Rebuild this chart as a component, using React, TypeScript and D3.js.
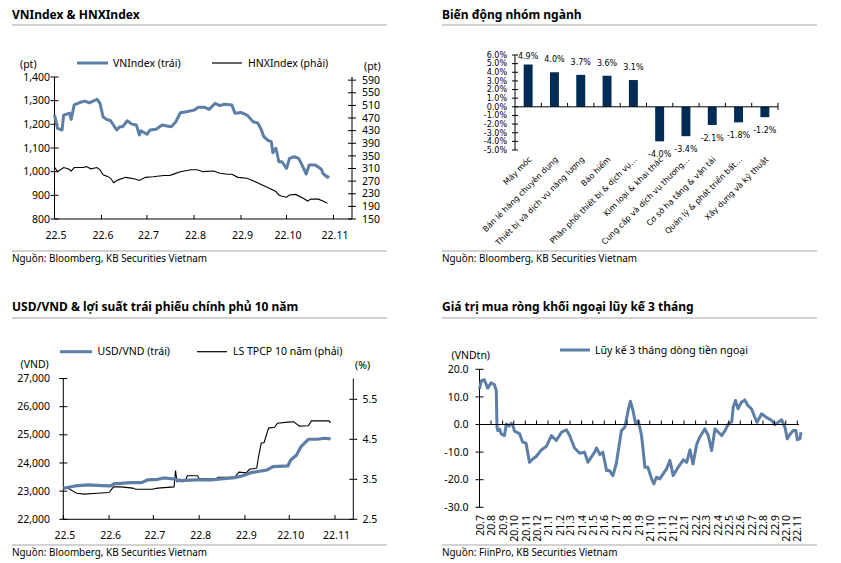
import React from "react";
import * as d3 from "d3";

const BLUE = "#5d7ea6";
const NAVY = "#002c55";
const GRID = "#a6a6a6";
const FONT = "'Noto Sans', sans-serif";
const BARFONT = "'DejaVu Sans', sans-serif";

// ---------- Panel 1: VNIndex & HNXIndex ----------
const vnIndex: [string, number][] = [
  ["2022-05-01", 1239], ["2022-05-03", 1183], ["2022-05-06", 1176], ["2022-05-07", 1239], ["2022-05-11", 1247],
  ["2022-05-12", 1221], ["2022-05-14", 1282], ["2022-05-18", 1293], ["2022-05-21", 1298], ["2022-05-24", 1291],
  ["2022-05-29", 1306], ["2022-05-31", 1289], ["2022-06-02", 1232], ["2022-06-04", 1222], ["2022-06-07", 1215],
  ["2022-06-11", 1176], ["2022-06-13", 1190], ["2022-06-15", 1190], ["2022-06-18", 1215], ["2022-06-21", 1201],
  ["2022-06-24", 1197], ["2022-06-26", 1155], ["2022-06-27", 1173], ["2022-07-01", 1158], ["2022-07-03", 1176],
  ["2022-07-07", 1179], ["2022-07-11", 1197], ["2022-07-14", 1193], ["2022-07-17", 1190], ["2022-07-20", 1211],
  ["2022-07-23", 1249], ["2022-07-27", 1253], ["2022-08-01", 1260], ["2022-08-04", 1272], ["2022-08-08", 1272],
  ["2022-08-11", 1263], ["2022-08-15", 1289], ["2022-08-18", 1279], ["2022-08-21", 1285], ["2022-08-26", 1282],
  ["2022-08-28", 1247], ["2022-09-01", 1250], ["2022-09-05", 1239], ["2022-09-09", 1211], ["2022-09-12", 1206],
  ["2022-09-14", 1183], ["2022-09-16", 1148], ["2022-09-19", 1131], ["2022-09-21", 1127], ["2022-09-22", 1080],
  ["2022-09-24", 1099], ["2022-09-26", 1042], ["2022-09-28", 1042], ["2022-10-01", 1014], ["2022-10-03", 1056],
  ["2022-10-06", 1063], ["2022-10-09", 1056], ["2022-10-12", 1018], ["2022-10-14", 990], ["2022-10-16", 1028],
  ["2022-10-20", 1028], ["2022-10-24", 1010], ["2022-10-25", 993], ["2022-10-28", 976], ["2022-10-29", 982],
];
const hnxIndex: [string, number][] = [
  ["2022-05-01", 314], ["2022-05-03", 300], ["2022-05-07", 313], ["2022-05-10", 309], ["2022-05-12", 302],
  ["2022-05-14", 313], ["2022-05-20", 313], ["2022-05-22", 316], ["2022-05-25", 309], ["2022-05-29", 313],
  ["2022-05-31", 306], ["2022-06-02", 290], ["2022-06-05", 285], ["2022-06-07", 279], ["2022-06-09", 265],
  ["2022-06-12", 274], ["2022-06-17", 282], ["2022-06-23", 277], ["2022-06-26", 272], ["2022-06-30", 282],
  ["2022-07-05", 284], ["2022-07-12", 288], ["2022-07-16", 288], ["2022-07-19", 293], ["2022-07-23", 300],
  ["2022-07-30", 306], ["2022-08-03", 306], ["2022-08-07", 300], ["2022-08-14", 302], ["2022-08-18", 295],
  ["2022-08-23", 292], ["2022-08-26", 292], ["2022-08-30", 282], ["2022-09-05", 279], ["2022-09-09", 271],
  ["2022-09-15", 258], ["2022-09-20", 247], ["2022-09-24", 237], ["2022-09-26", 226], ["2022-09-28", 222],
  ["2022-10-01", 219], ["2022-10-03", 226], ["2022-10-07", 228], ["2022-10-12", 216], ["2022-10-15", 207],
  ["2022-10-17", 213], ["2022-10-22", 213], ["2022-10-25", 207], ["2022-10-28", 200],
];
const monthTicks22 = ["2022-05-01", "2022-06-01", "2022-07-01", "2022-08-01", "2022-09-01", "2022-10-01", "2022-11-01"];
const monthLabels22 = ["22.5", "22.6", "22.7", "22.8", "22.9", "22.10", "22.11"];
const vnTicks = [800, 900, 1000, 1100, 1200, 1300, 1400];
const hnxTicks = [150, 190, 230, 270, 310, 350, 390, 430, 470, 510, 550, 590];

// ---------- Panel 2: sector performance ----------
const sectors = [
  "Máy móc",
  "Bán lẻ hàng chuyên dụng",
  "Thiết bị và dịch vụ năng lượng",
  "Bảo hiểm",
  "Phân phối thiết bị & dịch vụ…",
  "Kim loại & khai thác",
  "Cung cấp và dịch vụ thương…",
  "Cơ sở hạ tầng & vận tải",
  "Quản lý & phát triển bất…",
  "Xây dựng và kỹ thuật",
];
const sectorChange = [4.9, 4.0, 3.7, 3.6, 3.1, -4.0, -3.4, -2.1, -1.8, -1.2];
const pctTicks = [-5, -4, -3, -2, -1, 0, 1, 2, 3, 4, 5, 6];

// ---------- Panel 3: USD/VND & 10Y bond yield ----------
const usdVnd: [string, number][] = [
  ["2022-05-01", 23102], ["2022-05-09", 23184], ["2022-05-18", 23220], ["2022-05-27", 23196], ["2022-06-02", 23184],
  ["2022-06-04", 23255], ["2022-06-16", 23302], ["2022-06-23", 23302], ["2022-06-27", 23397], ["2022-07-04", 23420],
  ["2022-07-08", 23468], ["2022-07-15", 23432], ["2022-07-19", 23373], ["2022-07-30", 23397], ["2022-08-09", 23397],
  ["2022-08-16", 23432], ["2022-08-25", 23480], ["2022-08-30", 23539], ["2022-09-05", 23657], ["2022-09-16", 23752],
  ["2022-09-20", 23870], ["2022-09-30", 23894], ["2022-10-02", 24108], ["2022-10-06", 24285], ["2022-10-09", 24581],
  ["2022-10-14", 24842], ["2022-10-20", 24842], ["2022-10-25", 24877], ["2022-10-29", 24854],
];
const bondYield: [string, number][] = [
  ["2022-05-01", 3.29], ["2022-05-04", 3.28], ["2022-05-10", 3.15], ["2022-05-15", 3.13], ["2022-05-24", 3.15],
  ["2022-06-01", 3.17], ["2022-06-04", 3.31], ["2022-06-09", 3.31], ["2022-06-17", 3.28], ["2022-06-19", 3.25],
  ["2022-06-30", 3.25], ["2022-07-04", 3.28], ["2022-07-15", 3.31], ["2022-07-16", 3.72], ["2022-07-17", 3.44],
  ["2022-07-19", 3.5], ["2022-07-21", 3.44], ["2022-07-23", 3.5], ["2022-07-24", 3.59], ["2022-07-31", 3.59],
  ["2022-08-01", 3.51], ["2022-08-12", 3.51], ["2022-08-14", 3.55], ["2022-08-25", 3.55], ["2022-08-28", 3.68],
  ["2022-09-02", 3.66], ["2022-09-04", 3.75], ["2022-09-09", 3.78], ["2022-09-10", 4.02], ["2022-09-12", 4.4],
  ["2022-09-14", 4.42], ["2022-09-17", 4.78], ["2022-09-21", 4.8], ["2022-09-23", 4.9], ["2022-09-30", 4.93],
  ["2022-10-04", 4.94], ["2022-10-08", 4.83], ["2022-10-14", 4.84], ["2022-10-16", 4.96], ["2022-10-25", 4.96],
  ["2022-10-28", 4.96], ["2022-10-29", 4.91],
];
const vndTicks = [22000, 23000, 24000, 25000, 26000, 27000];
const yieldTicks = [2.5, 3.5, 4.5, 5.5];

// ---------- Panel 4: foreign net buying, 3-month cumulative ----------
const foreignFlow: [string, number][] = [
  ["2020-07-01", 12.9], ["2020-07-06", 15.9], ["2020-07-14", 16.2], ["2020-07-23", 13.2], ["2020-08-01", 15.1],
  ["2020-08-10", 14.4], ["2020-08-15", 12.3], ["2020-08-17", -1.0], ["2020-08-19", -2.2], ["2020-08-24", -1.7],
  ["2020-08-28", -3.4], ["2020-09-06", -4.0], ["2020-09-11", 0.2], ["2020-09-18", -0.6], ["2020-09-24", 0.4],
  ["2020-09-29", -0.6], ["2020-10-03", -2.4], ["2020-10-17", -3.4], ["2020-10-25", -6.4], ["2020-11-03", -6.8],
  ["2020-11-12", -13.7], ["2020-11-21", -12.5], ["2020-11-30", -11.6], ["2020-12-14", -9.2], ["2020-12-27", -8.0],
  ["2021-01-10", -4.0], ["2021-01-23", -5.8], ["2021-02-06", -2.8], ["2021-02-19", -1.9], ["2021-02-28", -4.0],
  ["2021-03-13", -8.5], ["2021-03-27", -10.4], ["2021-04-09", -10.0], ["2021-04-18", -13.7], ["2021-04-27", -11.8],
  ["2021-05-06", -10.0], ["2021-05-11", -8.5], ["2021-05-20", -10.9], ["2021-05-28", -10.0], ["2021-06-07", -16.7],
  ["2021-06-15", -16.7], ["2021-06-24", -18.5], ["2021-07-03", -14.3], ["2021-07-17", -2.2], ["2021-07-26", -1.0],
  ["2021-08-04", 5.1], ["2021-08-10", 8.4], ["2021-08-17", 5.1], ["2021-08-24", 0.2], ["2021-08-31", 1.4],
  ["2021-09-09", -4.0], ["2021-09-18", -15.5], ["2021-09-26", -15.5], ["2021-10-06", -19.7], ["2021-10-12", -21.5],
  ["2021-10-19", -19.1], ["2021-10-28", -19.7], ["2021-11-06", -17.9], ["2021-11-15", -16.1], ["2021-11-24", -13.0],
  ["2021-12-03", -18.5], ["2021-12-16", -15.5], ["2021-12-30", -12.8], ["2022-01-08", -13.7], ["2022-01-17", -9.2],
  ["2022-01-25", -14.3], ["2022-02-04", -7.2], ["2022-02-12", -4.6], ["2022-02-26", -1.6], ["2022-03-07", -4.0],
  ["2022-03-16", -9.4], ["2022-03-25", -1.6], ["2022-04-03", -2.8], ["2022-04-12", -4.0], ["2022-04-21", -2.2],
  ["2022-04-30", 0.2], ["2022-05-09", 1.0], ["2022-05-13", 6.3], ["2022-05-19", 8.7], ["2022-05-26", 5.7],
  ["2022-06-04", 8.1], ["2022-06-13", 8.9], ["2022-06-22", 6.8], ["2022-07-01", 5.7], ["2022-07-10", 2.6],
  ["2022-07-16", 0.8], ["2022-07-28", 3.9], ["2022-08-11", 2.5], ["2022-08-24", 1.5], ["2022-09-02", 0.0],
  ["2022-09-11", 0.8], ["2022-09-20", 1.7], ["2022-09-29", -1.0], ["2022-10-05", -5.2], ["2022-10-12", -3.6],
  ["2022-10-21", -2.2], ["2022-10-28", -2.2], ["2022-11-01", -5.5], ["2022-11-08", -5.2], ["2022-11-11", -2.8],
];
const flowTicks = [-30, -20, -10, 0, 10, 20];
const flowMonthStart = "2020-07-01";
const flowMonthCount = 29;

const parse = d3.timeParse("%Y-%m-%d");
const toPts = (s: [string, number][]) => s.map(([d, v]) => ({ d: parse(d) as Date, v }));

function Header({ x, title, titleY, lineY, srcLineY, srcY, source }: any) {
  return (
    <g>
      <text x={x} y={titleY} fontSize={12} fontWeight="bold" fill="#000">{title}</text>
      <line x1={x} x2={x + 375} y1={lineY} y2={lineY} stroke={GRID} strokeWidth={1.2} />
      <line x1={x} x2={x + 375} y1={srcLineY} y2={srcLineY} stroke={GRID} strokeWidth={1.2} />
      <text x={x} y={srcY} fontSize={9.9} fill="#000">{source}</text>
    </g>
  );
}

function Panel1() {
  const x = d3.scaleTime().domain([parse("2022-05-01") as Date, parse("2022-11-01") as Date]).range([54.5, 333.5]);
  const yL = d3.scaleLinear().domain([800, 1400]).range([219, 77]);
  const yR = d3.scaleLinear().domain([150, 600]).range([219, 77]);
  const lineL = d3.line<any>().x((p) => x(p.d)).y((p) => yL(p.v));
  const lineR = d3.line<any>().x((p) => x(p.d)).y((p) => yR(p.v));
  const fmt = d3.format(",");
  return (
    <g>
      <Header x={12} title="VNIndex & HNXIndex" titleY={18.5} lineY={25} srcLineY={251} srcY={262}
        source="Nguồn: Bloomberg, KB Securities Vietnam" />
      {/* legend */}
      <line x1={77} x2={108} y1={63} y2={63} stroke={BLUE} strokeWidth={3} />
      <text x={113} y={63} dy="0.35em" fontSize={10.5}>VNIndex (trái)</text>
      <line x1={212} x2={242} y1={63} y2={63} stroke="#000" strokeWidth={1.2} />
      <text x={248} y={63} dy="0.35em" fontSize={10.5}>HNXIndex (phải)</text>
      <text x={20} y={64} dy="0.35em" fontSize={10.5}>(pt)</text>
      <text x={364} y={66} dy="0.35em" fontSize={10.5}>(pt)</text>
      {/* axes */}
      <line x1={54.5} x2={54.5} y1={77} y2={219} stroke="#000" />
      <line x1={352} x2={352} y1={77} y2={219} stroke="#000" />
      <line x1={54.5} x2={352} y1={219} y2={219} stroke="#000" />
      {vnTicks.map((t) => (
        <g key={t}>
          <line x1={50.5} x2={58.5} y1={yL(t)} y2={yL(t)} stroke="#000" />
          <text x={50} y={yL(t)} dy="0.35em" textAnchor="end" fontSize={10.5}>{fmt(t)}</text>
        </g>
      ))}
      {hnxTicks.map((t) => (
        <g key={t}>
          <line x1={348} x2={356} y1={yR(t)} y2={yR(t)} stroke="#000" />
          <text x={362} y={yR(t)} dy="0.35em" fontSize={10.5}>{t}</text>
        </g>
      ))}
      {monthTicks22.map((m, i) => {
        const tx = x(parse(m) as Date);
        return (
          <g key={m}>
            <line x1={tx} x2={tx} y1={219} y2={215} stroke="#000" />
            <text x={tx + 1.5} y={235.5} dy="0.35em" textAnchor="middle" fontSize={10.5}>{monthLabels22[i]}</text>
          </g>
        );
      })}
      <path d={lineR(toPts(hnxIndex)) || ""} fill="none" stroke="#000" strokeWidth={1.1} />
      <path d={lineL(toPts(vnIndex)) || ""} fill="none" stroke={BLUE} strokeWidth={3} strokeLinejoin="round" />
    </g>
  );
}

function Panel2() {
  const x = d3.scaleBand<string>().domain(sectors).range([515, 778]).padding(0);
  const y = d3.scaleLinear().domain([-5, 6]).range([150, 55]);
  const bw = x.step() * 0.34;
  return (
    <g>
      <Header x={442} title="Biến động nhóm ngành" titleY={18.5} lineY={25} srcLineY={251} srcY={262}
        source="Nguồn: Bloomberg, KB Securities Vietnam" />
      <line x1={515} x2={515} y1={y(6)} y2={y(-5)} stroke="#000" />
      {pctTicks.map((t) => (
        <g key={t}>
          <line x1={512} x2={518} y1={y(t)} y2={y(t)} stroke="#000" />
          <text x={507} y={y(t)} dy="0.35em" textAnchor="end" fontSize={8} fontFamily={BARFONT}>{t.toFixed(1)}%</text>
        </g>
      ))}
      {sectors.map((s, i) => {
        const cx = (x(s) as number) + x.step() / 2;
        const v = sectorChange[i];
        const y0 = y(0);
        const yv = y(v);
        const ly = v >= 0 ? Math.max(yv - 13, 56) : yv + 13;
        return (
          <g key={s}>
            <rect x={cx - bw / 2} y={Math.min(y0, yv)} width={bw} height={Math.abs(yv - y0)} fill={NAVY} />
            <text x={cx} y={ly} dy="0.35em" textAnchor="middle" fontSize={8} fontFamily={BARFONT}>{v.toFixed(1)}%</text>
            <text transform={`translate(${cx + 4},${160}) rotate(-45)`} textAnchor="end" fontSize={8} fontFamily={BARFONT}>{s}</text>
          </g>
        );
      })}
      <line x1={515} x2={778} y1={y(0)} y2={y(0)} stroke="#000" />
      {sectors.map((s, i) => {
        const bx = (x(s) as number) + x.step();
        return <line key={"t" + i} x1={bx} x2={bx} y1={y(0) - 4} y2={y(0) + (i === sectors.length - 1 ? 3 : 0)} stroke="#000" />;
      })}
    </g>
  );
}

function Panel3() {
  const x = d3.scaleTime().domain([parse("2022-05-01") as Date, parse("2022-11-01") as Date]).range([63.3, 335]);
  const yL = d3.scaleLinear().domain([22000, 27000]).range([519.3, 378.5]);
  const yR = d3.scaleLinear().domain([2.5, 6.0]).range([519.3, 379.3]);
  const lineL = d3.line<any>().x((p) => x(p.d)).y((p) => yL(p.v));
  const lineR = d3.line<any>().x((p) => x(p.d)).y((p) => yR(p.v));
  const fmt = d3.format(",");
  return (
    <g>
      <Header x={12} title="USD/VND & lợi suất trái phiếu chính phủ 10 năm" titleY={310.5} lineY={318} srcLineY={545} srcY={555.5}
        source="Nguồn: Bloomberg, KB Securities Vietnam" />
      <line x1={60} x2={92} y1={351.7} y2={351.7} stroke={BLUE} strokeWidth={3} />
      <text x={97.5} y={351.7} dy="0.35em" fontSize={10.5}>USD/VND (trái)</text>
      <line x1={197} x2={227} y1={351.7} y2={351.7} stroke="#000" strokeWidth={1.2} />
      <text x={233} y={351.7} dy="0.35em" fontSize={10.5}>LS TPCP 10 năm (phải)</text>
      <text x={20.5} y={364} dy="0.35em" fontSize={10.5}>(VND)</text>
      <text x={355} y={365} dy="0.35em" fontSize={10.5}>(%)</text>
      <line x1={63.3} x2={63.3} y1={378.5} y2={519.3} stroke="#000" />
      <line x1={353.3} x2={353.3} y1={378.5} y2={519.3} stroke="#000" />
      <line x1={63.3} x2={353.3} y1={519.3} y2={519.3} stroke="#000" />
      {vndTicks.map((t) => (
        <g key={t}>
          <line x1={59.3} x2={67.3} y1={yL(t)} y2={yL(t)} stroke="#000" />
          <text x={50} y={yL(t)} dy="0.35em" textAnchor="end" fontSize={10.5}>{fmt(t)}</text>
        </g>
      ))}
      {yieldTicks.map((t) => (
        <g key={t}>
          <line x1={349.3} x2={357.3} y1={yR(t)} y2={yR(t)} stroke="#000" />
          <text x={362.5} y={yR(t)} dy="0.35em" fontSize={10.5}>{t.toFixed(1)}</text>
        </g>
      ))}
      {monthTicks22.map((m, i) => {
        const tx = x(parse(m) as Date);
        return (
          <g key={m}>
            <line x1={tx} x2={tx} y1={519.3} y2={515} stroke="#000" />
            <text x={tx + 1.5} y={535} dy="0.35em" textAnchor="middle" fontSize={10.5}>{monthLabels22[i]}</text>
          </g>
        );
      })}
      <path d={lineR(toPts(bondYield)) || ""} fill="none" stroke="#000" strokeWidth={1.1} />
      <path d={lineL(toPts(usdVnd)) || ""} fill="none" stroke={BLUE} strokeWidth={3.2} strokeLinejoin="round" />
    </g>
  );
}

function Panel4() {
  const start = parse(flowMonthStart) as Date;
  const months = d3.range(flowMonthCount).map((i) => d3.timeMonth.offset(start, i));
  const x = d3.scaleTime().domain([months[0], months[months.length - 1]]).range([479.5, 797.3]);
  const y = d3.scaleLinear().domain([-30, 20]).range([507.3, 369.3]);
  const line = d3.line<any>().x((p) => x(p.d)).y((p) => y(p.v));
  const lab = d3.timeFormat("%y");
  return (
    <g>
      <Header x={442} title="Giá trị mua ròng khối ngoại lũy kế 3 tháng" titleY={310.5} lineY={318} srcLineY={545} srcY={555.5}
        source="Nguồn: FiinPro, KB Securities Vietnam" />
      <line x1={560} x2={590} y1={350} y2={350} stroke={BLUE} strokeWidth={3} />
      <text x={595} y={350} dy="0.35em" fontSize={10.5}>Lũy kế 3 tháng dòng tiền ngoại</text>
      <text x={451.5} y={355.7} dy="0.35em" fontSize={10.5}>(VNDtn)</text>
      <line x1={479.5} x2={479.5} y1={369.3} y2={507.3} stroke="#000" />
      {flowTicks.map((t) => (
        <g key={t}>
          <line x1={475.5} x2={483.5} y1={y(t)} y2={y(t)} stroke="#000" />
          <text x={468.5} y={y(t)} dy="0.35em" textAnchor="end" fontSize={10.5}>{t.toFixed(1)}</text>
        </g>
      ))}
      <path d={line(toPts(foreignFlow)) || ""} fill="none" stroke={BLUE} strokeWidth={3} strokeLinejoin="round" />
      <line x1={479.5} x2={799} y1={y(0)} y2={y(0)} stroke="#000" />
      {months.map((m, i) => {
        const tx = x(m);
        return (
          <g key={i}>
            <line x1={tx} x2={tx} y1={y(0)} y2={y(0) - 4} stroke="#000" />
            <text transform={`translate(${tx + 0.5},${515}) rotate(-90)`} dy="0.35em" textAnchor="end" fontSize={10.5}>
              {`${lab(m)}.${m.getMonth() + 1}`}
            </text>
          </g>
        );
      })}
    </g>
  );
}

export default function App() {
  return (
    <svg width={841} height={563} style={{ position: "absolute", left: 0, top: 0 }} fontFamily={FONT}>
      <rect width={841} height={563} fill="#fff" />
      <Panel1 />
      <Panel2 />
      <Panel3 />
      <Panel4 />
    </svg>
  );
}
